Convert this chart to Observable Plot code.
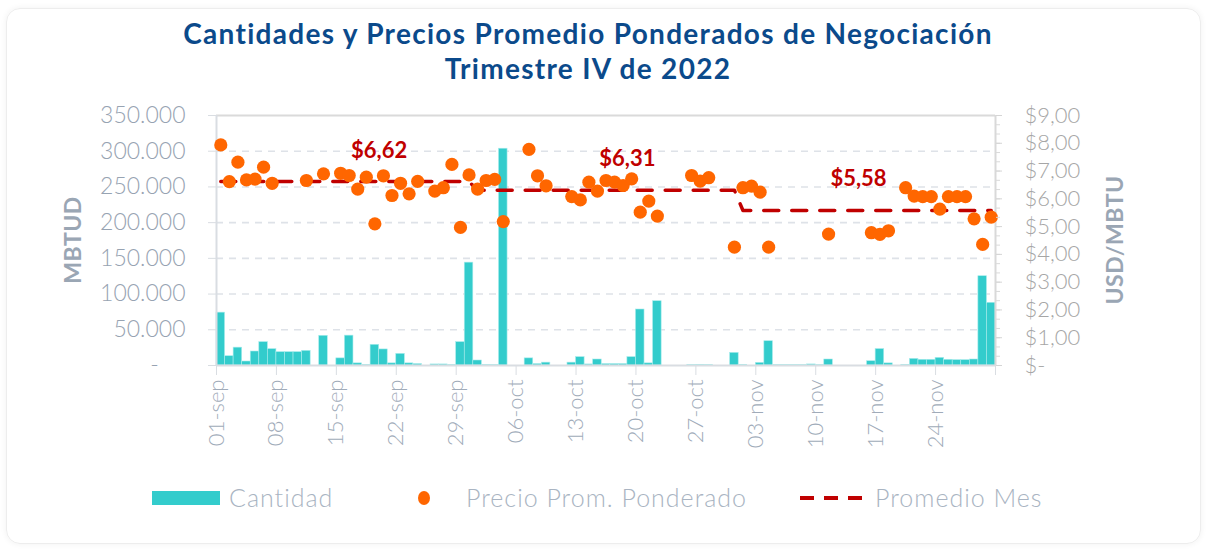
<!DOCTYPE html>
<html><head><meta charset="utf-8">
<script src="https://cdn.jsdelivr.net/npm/d3@7"></script>
<script src="https://cdn.jsdelivr.net/npm/@observablehq/plot@0.6"></script>
<style>
body{margin:0;background:#fff;width:1209px;height:550px;overflow:hidden;font-family:Lato,"Noto Sans",sans-serif;position:relative}
#card{position:absolute;left:6px;top:8px;width:1193px;height:534px;border:1px solid #ededed;border-radius:14px;box-shadow:0 0 6px rgba(0,0,0,0.06)}
#title{position:absolute;left:0;top:16px;width:1176px;text-align:center;color:#0B4A8B;font-weight:700;font-size:28px;letter-spacing:1.3px;line-height:35px}
#chart{position:absolute;left:0;top:100px}
.ax{position:absolute;color:#9AA6B4;font-weight:700;font-size:23px;letter-spacing:0.5px;transform:translate(-50%,-50%) rotate(-90deg);white-space:nowrap}
.lg{position:absolute;color:#A9B4C2;font-size:25px;letter-spacing:1px;font-weight:300;top:482px;white-space:nowrap}
</style></head>
<body>
<div id="card"></div>
<div id="title">Cantidades y Precios Promedio Ponderados de Negociación<br>Trimestre IV de 2022</div>
<div id="chart"></div>
<div class="ax" style="left:72px;top:240px">MBTUD</div>
<div class="ax" style="left:1114px;top:240px">USD/MBTU</div>
<div style="position:absolute;left:152px;top:491px;width:68px;height:14px;background:#33CCCC"></div>
<div class="lg" style="left:229px">Cantidad</div>
<div style="position:absolute;left:418px;top:491px;width:12px;height:14px;border-radius:50%;background:#FF6600"></div>
<div class="lg" style="left:466px">Precio Prom. Ponderado</div>
<svg style="position:absolute;left:798px;top:490px" width="74" height="16"><line x1="2" y1="8" x2="72" y2="8" stroke="#C00000" stroke-width="4" stroke-dasharray="14,10" /></svg>
<div class="lg" style="left:875px">Promedio Mes</div>
<script>
// Quantities (MBTUD) for each day from 01-sep-2022 to 30-nov-2022
const cantidad = [
  74000, 13000, 25000, 5600, 19600, 32700, 22900, 18700, 18700, 18700,
  20500, 0, 41600, 0, 10000, 41800, 3000, 1000, 29000, 22500,
  3000, 16300, 3000, 2000, 0, 1500, 1500, 800, 32700, 144000,
  7000, 1000, 500, 303500, 0, 0, 10000, 2000, 4000, 0,
  0, 4000, 11700, 1500, 8400, 2000, 2000, 2000, 11700, 78400,
  3000, 90000, 0, 0, 0, 500, 1000, 500, 0, 0,
  17700, 1000, 0, 3700, 34000, 500, 500, 500, 500, 1500,
  500, 8400, 0, 0, 0, 0, 6000, 23000, 3000, 0,
  1000, 9300, 8000, 8000, 10700, 8000, 7500, 7500, 8400, 125000,
  87800
];
// Weighted average price (USD/MBTU), null when there was no trade price
const precio = [
  7.94, 6.62, 7.32, 6.68, 6.71, 7.14, 6.56, null, null, null,
  6.66, null, 6.90, null, 6.92, 6.84, 6.35, 6.78, 5.10, 6.83,
  6.12, 6.56, 6.18, 6.63, null, 6.28, 6.40, 7.24, 4.97, 6.86,
  6.35, 6.66, 6.70, 5.18, null, null, 7.78, 6.83, 6.47, null,
  null, 6.08, 5.96, 6.60, 6.28, 6.66, 6.60, 6.48, 6.72, 5.52,
  5.92, 5.38, null, null, null, 6.84, 6.64, 6.76, null, null,
  4.26, 6.40, 6.46, 6.24, 4.26, null, null, null, null, null,
  null, 4.73, null, null, null, null, 4.78, 4.72, 4.85, null,
  6.40, 6.10, 6.08, 6.08, 5.63, 6.08, 6.08, 6.08, 5.28, 4.36,
  5.34
];
const meses = [8, 9, 10]; // UTC month index: sep, oct, nov
const promedioMes = [6.62, 6.31, 5.58];
const etiquetasMes = ["$6,62", "$6,31", "$5,58"];
const etiquetaFecha = ["2022-09-20", "2022-10-19", "2022-11-15"];
const etiquetaY = [7.74, 7.45, 6.71];
const xTickLabels = ["01-sep","08-sep","15-sep","22-sep","29-sep","06-oct","13-oct","20-oct","27-oct","03-nov","10-nov","17-nov","24-nov",""];
const yLeftTicks = [0, 50000, 100000, 150000, 200000, 250000, 300000, 350000];
const yRightTicks = [0, 1, 2, 3, 4, 5, 6, 7, 8, 9];

const start = new Date(Date.UTC(2022, 8, 1));
const end = new Date(Date.UTC(2022, 11, 1));
const K = 350000 / 9; // price -> quantity scale factor (secondary axis)
const dias = d3.utcDay.range(start, end);
const rows = dias.map((d, i) => ({
  date: d,
  next: d3.utcDay.offset(d, 1),
  mid: d3.utcHour.offset(d, 12),
  q: cantidad[i],
  p: precio[i],
  m: promedioMes[meses.indexOf(d.getUTCMonth())]
}));
const xTicks = xTickLabels.map((_, i) => d3.utcDay.offset(start, 7 * i));
const fmtLeft = d => d === 0 ? "-\u2007\u2007" : d3.format(",")(d).replace(/,/g, ".");
const fmtRight = v => v === 0 ? "$-" : "$" + v + ",00";
const minor = d3.range(0, 27).map(i => i / 3 * K);
const labels = etiquetasMes.map((t, i) => ({t, x: new Date(etiquetaFecha[i] + "T00:00Z"), y: etiquetaY[i] * K}));

const grid = "#DEE2E8";
const plot = Plot.plot({
  width: 1209,
  height: 365,
  marginLeft: 216,
  marginRight: 214,
  marginTop: 15,
  marginBottom: 100,
  style: {fontFamily: "Lato, 'Noto Sans', sans-serif", background: "transparent", overflow: "visible"},
  x: {type: "utc", domain: [start, end]},
  y: {domain: [0, 350000]},
  marks: [
    Plot.ruleY(yLeftTicks.filter(v => v > 0 && v < 350000), {stroke: grid, strokeWidth: 1.6, strokeDasharray: "7,6"}),
    Plot.ruleY([350000], {stroke: "#DADADA", strokeWidth: 2}),
    Plot.rectY(rows, {x1: "date", x2: "next", y: "q", fill: "#33CCCC", stroke: "#A8ECEC", strokeWidth: 0.6}),
    Plot.ruleY([0], {stroke: "#D9DDE2", strokeWidth: 2}),
    Plot.ruleX([start], {stroke: "#D9DDE2", strokeWidth: 2}),
    Plot.ruleX([end], {stroke: "#D9D9D9", strokeWidth: 2}),
    Plot.line(rows, {x: "mid", y: d => d.m * K, stroke: "#C00000", strokeWidth: 3.5, strokeDasharray: "15,13"}),
    Plot.dot(rows.filter(d => d.p != null), {x: "mid", y: d => d.p * K, r: 6.6, fill: "#FF6600"}),
    Plot.text(labels, {x: "x", y: "y", text: "t", fill: "#C00000", fontWeight: 700, fontSize: 22}),
    Plot.axisY(yLeftTicks, {anchor: "left", tickFormat: fmtLeft, tickSize: 8, tickPadding: 23, stroke: "#D9DDE2", fill: "#97A3B2", fontSize: 23, fontWeight: 300, label: null}),
    Plot.axisY(minor, {anchor: "right", tickFormat: () => "", tickSize: 4, stroke: "#DADADA", label: null}),
    Plot.axisY(yRightTicks.map(v => v * K), {anchor: "right", tickFormat: v => fmtRight(Math.round(v / K)), tickSize: 6, tickPadding: 23, stroke: "#D5D5D5", fill: "#A6A6A6", fontSize: 22, fontWeight: 300, textAnchor: "start", label: null}),
    Plot.axisX(xTicks, {tickFormat: (d, i) => xTickLabels[i], tickRotate: -90, tickSize: 10, tickPadding: 4, stroke: "#D9DDE2", fill: "#A0ABB9", fontSize: 22, fontWeight: 300, label: null})
  ]
});
document.getElementById("chart").appendChild(plot);
</script>
</body></html>
